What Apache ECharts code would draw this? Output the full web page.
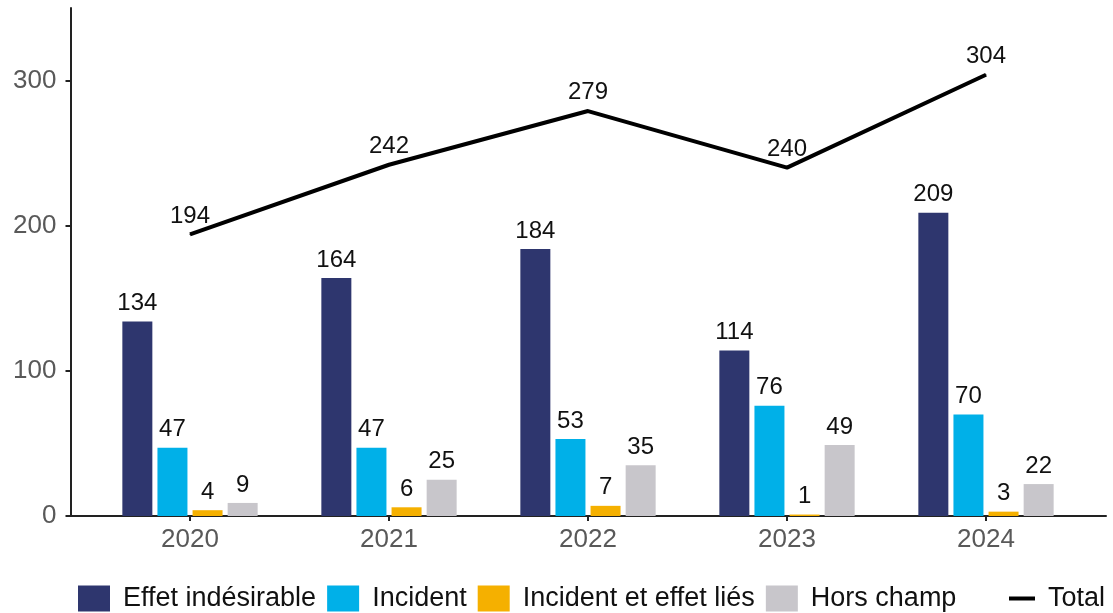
<!DOCTYPE html>
<html>
<head>
<meta charset="utf-8">
<script src="https://cdn.jsdelivr.net/npm/echarts@6/dist/echarts.min.js"></script>
<style>
  html, body { margin: 0; padding: 0; background: #fff; }
  #chart { width: 1113px; height: 613px; }
</style>
</head>
<body>
<div id="chart"></div>
<script>
const years = ['2020', '2021', '2022', '2023', '2024'];
const effetIndesirable = [134, 164, 184, 114, 209];
const incident = [47, 47, 53, 76, 70];
const incidentEffetLies = [4, 6, 7, 1, 3];
const horsChamp = [9, 25, 35, 49, 22];
const total = [194, 242, 279, 240, 304];
const yTickValues = [0, 100, 200, 300];

const font = 'Liberation Sans, Arial, sans-serif';

function barSerie(name, data, color) {
  return {
    name: name,
    type: 'bar',
    data: data,
    barWidth: 30,
    barGap: '17%',
    itemStyle: { color: color },
    label: { show: true, position: 'top', distance: 6, color: '#111', fontSize: 24, fontFamily: font }
  };
}

const legendText = { color: '#111', fontSize: 27, fontFamily: font, padding: [0, 0, 0, 8] };

let option = {
  backgroundColor: '#fff',
  animation: false,
  grid: [
    { left: 90.5, right: 27.5, top: 8, bottom: 97 },
    { left: 70, right: 7, top: 8, bottom: 97 }   // only for the long x axis line
  ],
  legend: [
    {
      top: 580,
      left: 73,
      itemWidth: 32,
      itemHeight: 26,
      itemGap: 11,
      textStyle: legendText,
      data: ['Effet indésirable', 'Incident', 'Incident et effet liés', 'Hors champ'].map(n => ({ name: n, icon: 'rect' }))
    },
    {
      top: 580,
      left: 1004,
      itemWidth: 26,
      itemHeight: 26,
      textStyle: legendText,
      data: [{ name: 'Total', icon: 'path://M0,0 L26,0 L26,4 L0,4 Z' }]
    }
  ],
  xAxis: [
    {
      type: 'category',
      gridIndex: 0,
      data: years,
      axisLine: { show: true, lineStyle: { color: '#222', width: 2 } },
      axisTick: { show: true, alignWithLabel: true, length: 5, lineStyle: { color: '#222', width: 2 } },
      axisLabel: { color: '#595959', fontSize: 26, fontFamily: font, margin: 11 }
    },
    {
      type: 'value',
      gridIndex: 1,
      min: 0,
      max: 1,
      axisLine: { show: true, lineStyle: { color: '#222', width: 2 } },
      axisTick: { show: false },
      axisLabel: { show: false },
      splitLine: { show: false }
    }
  ],
  yAxis: [
    {
      type: 'value',
      gridIndex: 0,
      min: 0,
      max: 350,
      interval: 50,
      offset: 20,
      axisLine: { show: true, lineStyle: { color: '#222', width: 2 } },
      axisTick: { show: true, length: 5, customValues: yTickValues, lineStyle: { color: '#222', width: 2 } },
      axisLabel: { color: '#595959', fontSize: 26, fontFamily: font, margin: 14, customValues: yTickValues },
      splitLine: { show: false }
    },
    {
      type: 'value',
      gridIndex: 1,
      show: false
    }
  ],
  series: [
    barSerie('Effet indésirable', effetIndesirable, '#2E366E'),
    barSerie('Incident', incident, '#00B0E8'),
    barSerie('Incident et effet liés', incidentEffetLies, '#F5B000'),
    barSerie('Hors champ', horsChamp, '#C8C6CB'),
    {
      name: 'Total',
      type: 'line',
      data: total,
      symbol: 'circle',
      symbolSize: 1,
      showSymbol: true,
      lineStyle: { color: '#000', width: 4 },
      itemStyle: { color: '#000' },
      label: { show: true, position: 'top', distance: 6, color: '#111', fontSize: 24, fontFamily: font }
    }
  ]
};

var chart = echarts.init(document.getElementById('chart'));
chart.setOption(option);
</script>
</body>
</html>
